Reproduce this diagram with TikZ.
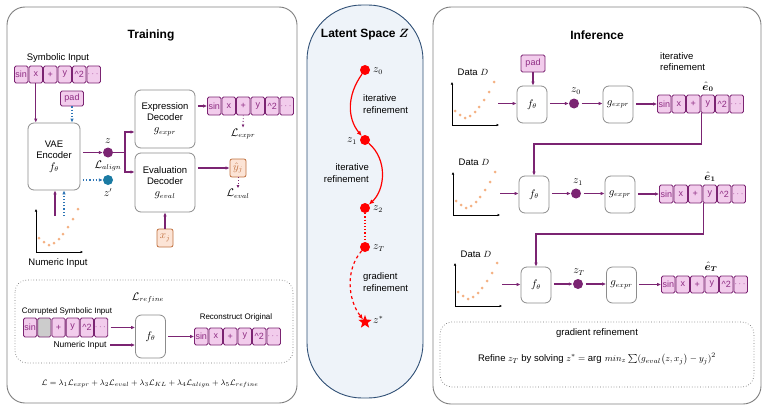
\documentclass[tikz,border=0pt]{standalone}
\usepackage{fontspec}
\setmainfont{Liberation Sans}
\usepackage{amsmath,bm}
\usetikzlibrary{arrows.meta,shapes.geometric}
\definecolor{pur}{HTML}{7B2472}
\definecolor{tokfill}{HTML}{F2CCEC}
\definecolor{toktext}{HTML}{8E2C83}
\definecolor{boxgray}{HTML}{8C8C8C}
\definecolor{panelgray}{HTML}{7F7F7F}
\definecolor{bluel}{HTML}{2E75B6}
\definecolor{zblue}{HTML}{1B7BA3}
\definecolor{orfill}{HTML}{FCE4D6}
\definecolor{ordraw}{HTML}{C0703F}
\definecolor{dotor}{HTML}{F4B183}
\definecolor{latfill}{HTML}{EEF3F9}
\definecolor{latdraw}{HTML}{2F4F75}
\newcommand\fsn{\fontsize{9.5}{11.5}\selectfont}
\newcommand\fsm{\fontsize{10.5}{12.5}\selectfont}
\newcommand\fss{\fontsize{8}{9.5}\selectfont}
\newcommand\stdtoks{sin/tokbox,x/tokbox,+/tokbox,y/tokbox,\textasciicircum 2/tokbox,$\cdots$/tokbox}
\newcommand\corrtoks{sin/tokbox,{}/tokgray,+/tokbox,y/tokbox,\textasciicircum 2/tokbox,$\cdots$/tokbox}
% prefix, x left, y centre, pitch, height, list
\newcommand\tokrow[6]{%
  \foreach \tokt/\toks [count=\tokn] in #6 {%
    \node[tokbox,\toks,minimum width=#4pt-1pt,minimum height=#5pt] (#1-\tokn) at ({#2+(\tokn-0.5)*#4},#3) {\tokt};}}
\newcommand\miniplot[2]{%
  \begin{scope}[shift={(#1,#2)}]
    \draw[axisln] (0,0) -- (0,-43);
    \draw[axisln] (0,0) -- (47,0);
    \foreach \px/\py in {3/-14,8/-10,13/-7,18/-9,23/-13,27/-18,32/-25,37/-33,42/-43}
      \fill[dotor] (\px,\py) circle (1.5pt);
  \end{scope}}
\begin{document}
\begin{tikzpicture}[x=1pt,y=-1pt,
  tokbox/.style={draw=pur,fill=tokfill,text=toktext,rounded corners=1.5pt,inner sep=0pt,line width=0.8pt,font=\fontsize{9}{10}\selectfont},
  tokgray/.style={fill=black!20},
  blk/.style={draw=boxgray,fill=white,rounded corners=6pt,line width=0.8pt,align=center,font=\fsn},
  arr/.style={pur,line width=1.2pt,-{Latex[length=4pt,width=3.6pt]}},
  garr/.style={arr,shorten <=2.5pt},
  barr/.style={bluel,line width=1.2pt,dotted,-{Latex[length=4pt,width=3.6pt]}},
  larr/.style={pur,line width=0.8pt,dotted,-{Latex[length=3pt,width=3pt]}},
  mypanel/.style={draw=panelgray,line width=0.9pt,rounded corners=18pt},
  dotbox/.style={draw=black!55,dotted,line width=0.7pt,rounded corners=12pt},
  lbl/.style={font=\fsn,inner sep=1pt,align=center},
  mlbl/.style={font=\fsm,inner sep=1pt,align=center},
  slbl/.style={font=\fss,inner sep=1pt},
  ttl/.style={font=\bfseries\fontsize{12}{14}\selectfont},
  axisln/.style={black,line width=0.7pt,-{Latex[length=2.5pt,width=2.5pt]}},
  zdot/.style={circle,fill=pur,inner sep=0pt,minimum size=10pt},
  rdot/.style={circle,fill=red,inner sep=0pt,minimum size=10pt},
  orbox/.style={draw=ordraw,fill=orfill,text=ordraw,rounded corners=2pt,line width=0.8pt,minimum width=16pt,minimum height=18pt,inner sep=0pt,font=\fsm},
  redc/.style={red,line width=1.2pt}]
\useasboundingbox (0,0) rectangle (768,412);

%================ TRAINING =================
\draw[mypanel] (7,7) rectangle (297,403);
\node[ttl] (ttrain) at (151,35) {Training};
\node[lbl] (symin) at (58,58) {Symbolic Input};
\tokrow{t1}{14}{74.5}{14.5}{17}{\stdtoks}
\node[tokbox,minimum width=23pt,minimum height=15pt] (pad) at (72,98.5) {pad};
\node[blk,minimum width=52pt,minimum height=67pt] (enc) at (54,156.5) {VAE\\Encoder\\{\fsm$f_\theta$}};
\draw[arr] (t1-2.south) -- (t1-2.south |- enc.north);
\draw[barr] (pad.south) -- (pad.south |- enc.north);

\node[zdot] (z) at (108,152.5) {};
\node[mlbl] (zlab) at (108,141) {$z$};
\node[mlbl] (lalign) at (108,166) {$\mathcal{L}_{align}$};
\node[zdot,fill=zblue] (zp) at (108,180) {};
\node[mlbl] (zplab) at (108,193) {$z'$};
\draw[garr] (enc.east |- z) -- (z.west);
\draw[barr,shorten <=2.5pt] (enc.east |- zp) -- (zp.west);

\node[blk,minimum width=60pt,minimum height=58pt] (expdec) at (165,119) {Expression\\Decoder\\{\fsm$g_{expr}$}};
\node[blk,minimum width=60pt,minimum height=59pt] (evaldec) at (165,182.5) {Evaluation\\Decoder\\{\fsm$g_{eval}$}};
\coordinate (fork) at (125,152.5);
\draw[arr] (z.east) -- (fork) |- (expdec.west |- 0,132);
\draw[arr] (fork) |- (evaldec.west |- 0,172);

\tokrow{t2}{207}{106}{14.5}{18}{\stdtoks}
\draw[garr] (expdec.east |- t2-1.west) -- (t2-1.west);
\node[mlbl] (lexpr) at (243,134) {$\mathcal{L}_{expr}$};
\draw[larr] (t2-3.south) -- (lexpr.north);

\node[orbox] (yj) at (238,168) {$\hat{y}_j$};
\draw[garr] (evaldec.east |- yj) -- (yj.west);
\node[mlbl] (leval) at (238,194) {$\mathcal{L}_{eval}$};
\draw[larr] (yj.south) -- (leval.north);
\node[orbox] (xj) at (165,238) {$x_j$};
\draw[arr] (xj.north) -- (evaldec.south);

\miniplot{36}{252}
\coordinate (nin1) at (55,216);
\coordinate (nin2) at (64,216);
\draw[arr] (nin1) -- (nin1 |- enc.south);
\draw[barr] (nin2) -- (nin2 |- enc.south);
\node[lbl] (numin) at (58,263) {Numeric Input};

% refine box
\draw[dotbox] (15,280) rectangle (293,363);
\node[mlbl] (lref) at (148,298) {$\mathcal{L}_{refine}$};
\node[slbl] (corr) at (67,311) {Corrupted Symbolic Input};
\tokrow{c}{23}{327.5}{14.2}{19}{\corrtoks}
\node[blk,minimum width=30pt,minimum height=43pt] (fref) at (150.5,336.5) {\fsm$f_\theta$};
\node[slbl,font=\fontsize{8.5}{10}\selectfont] (ni2) at (80,345) {Numeric Input};
\draw[garr] (c-6.east) -- (fref.west |- c-6.east);
\draw[garr] (ni2.east) -- (fref.west |- ni2.east);
\node[slbl] (recon) at (236,317) {Reconstruct Original};
\tokrow{r}{194}{336.5}{14.5}{17}{\stdtoks}
\draw[garr] (fref.east) -- (r-1.west);

\node[lbl,font=\fontsize{8.3}{10}\selectfont] (loss) at (150,384) {$\mathcal{L}=\lambda_1\mathcal{L}_{expr}+\lambda_2\mathcal{L}_{eval}+\lambda_3\mathcal{L}_{KL}+\lambda_4\mathcal{L}_{align}+\lambda_5\mathcal{L}_{refine}$};

%================ LATENT =================
\draw[latdraw,fill=latfill,line width=0.9pt,rounded corners=55pt] (307,5) rectangle (423,398);
\node[ttl] (tlat) at (365,35) {Latent Space $\bm{Z}$};
\node[rdot] (z0) at (365,70) {};
\node[rdot] (z1) at (365,140) {};
\node[rdot] (z2) at (365,208) {};
\node[rdot] (zT) at (365,247) {};
\node[star,star points=5,star point ratio=2.4,fill=red,inner sep=0pt,minimum size=14pt] (zs) at (365,322) {};
\node[mlbl,anchor=west] (z0l) at (372,71) {$z_0$};
\node[mlbl,anchor=east] (z1l) at (358,141) {$z_1$};
\node[mlbl,anchor=west] (z2l) at (372,209) {$z_2$};
\node[mlbl,anchor=west] (zTl) at (372,248) {$z_T$};
\node[mlbl,anchor=west] (zsl) at (372,320) {$z^*$};
\node[lbl,anchor=west,align=left] (it1) at (362,104) {iterative\\refinement};
\node[lbl,anchor=east,align=right] (it2) at (370,173) {iterative\\refinement};
\node[lbl,anchor=west,align=left] (gr1) at (362,282) {gradient\\refinement};
\draw[redc,-{Latex[length=5pt,width=4.5pt]}] (z0) .. controls (347,95) and (347,118) .. (z1);
\draw[redc,-{Latex[length=5pt,width=4.5pt]}] (z1) .. controls (388,160) and (385,190) .. (z2);
\draw[redc,dotted] (z2) -- (zT);
\draw[redc,dashed,-{Latex[length=5pt,width=4.5pt]}] (zT) .. controls (345,270) and (348,300) .. (zs);

%================ INFERENCE =================
\draw[mypanel] (433,7) rectangle (761,404);
\node[ttl] (tinf) at (597,35) {Inference};

% row 0
\node[lbl] (d0) at (473,72) {Data $D$};
\miniplot{452}{125}
\coordinate (pin0) at (498,103.5);
\node[blk,minimum width=30pt,minimum height=37pt] (f0) at (532,104.5) {\fsm$f_\theta$};
\node[tokbox,minimum width=24pt,minimum height=17pt] (pad1) at (533,63.5) {pad};
\draw[arr] (pad1.south) -- (pad1.south |- f0.north);
\draw[arr] (pin0) -- (f0.west |- pin0);
\node[zdot] (iz0) at (574,103.5) {};
\node[mlbl] (iz0l) at (576,91) {$z_0$};
\node[blk,minimum width=30pt,minimum height=37pt] (g0) at (618,104.5) {\fsm$g_{expr}$};
\draw[garr] (f0.east |- iz0) -- (iz0.west);
\draw[garr] (iz0.east) -- (g0.west |- iz0);
\tokrow{i0}{657}{104}{14.5}{18}{\stdtoks}
\draw[garr] (g0.east |- i0-1.west) -- (i0-1.west);
\node[mlbl] (e0) at (708,87) {$\bm{\hat{e}_0}$};
\node[lbl,anchor=west,align=left] (itr) at (659,61.5) {iterative\\refinement};

% row 1
\node[lbl] (d1) at (474,162) {Data $D$};
\miniplot{453}{215}
\coordinate (pin1) at (500,193.5);
\node[blk,minimum width=30pt,minimum height=37pt] (f1) at (534,194.5) {\fsm$f_\theta$};
\draw[arr] (pin1) -- (f1.west |- pin1);
\node[zdot] (iz1) at (576,193.5) {};
\node[mlbl] (iz1l) at (578,182) {$z_1$};
\node[blk,minimum width=30pt,minimum height=37pt] (g1) at (620,194.5) {\fsm$g_{expr}$};
\draw[garr] (f1.east |- iz1) -- (iz1.west);
\draw[garr] (iz1.east) -- (g1.west |- iz1);
\tokrow{i1}{659}{194}{14.5}{18}{\stdtoks}
\draw[garr] (g1.east |- i1-1.west) -- (i1-1.west);
\node[mlbl] (e1) at (710,177) {$\bm{\hat{e}_1}$};
\draw[arr] ([xshift=1pt]i0-4.south west) -- ([xshift=1pt]i0-4.south west |- 0,144) -| (f1.north);

% row T
\node[lbl] (d2) at (476,254) {Data $D$};
\miniplot{455}{306}
\coordinate (pin2) at (502,284.5);
\node[blk,minimum width=30pt,minimum height=36pt] (f2) at (536,285) {\fsm$f_\theta$};
\draw[arr] (pin2) -- (f2.west |- pin2);
\node[zdot] (iz2) at (578,284) {};
\node[mlbl] (iz2l) at (579,272) {$z_T$};
\node[blk,minimum width=30pt,minimum height=36pt] (g2) at (621.5,285) {\fsm$g_{expr}$};
\draw[garr] (f2.east |- iz2) -- (iz2.west);
\draw[garr] (iz2.east) -- (g2.west |- iz2);
\tokrow{i2}{661}{284.5}{14.5}{17}{\stdtoks}
\draw[garr] (g2.east |- i2-1.west) -- (i2-1.west);
\node[mlbl] (e2) at (711,267) {$\bm{\hat{e}_T}$};
\draw[arr] ([xshift=1pt]i1-4.south west) -- ([xshift=1pt]i1-4.south west |- 0,234) -| (f2.north);

% gradient refinement
\draw[dotbox] (440,322) rectangle (754,387);
\node[lbl] (grt) at (597,333) {gradient refinement};
\node[lbl] (grf) at (597,359) {Refine $z_T$ by solving $z^{*}=\arg\, min_{z}\sum(g_{eval}\bigl(z,x_j\bigr)-y_j)^2$};
\end{tikzpicture}
\end{document}
